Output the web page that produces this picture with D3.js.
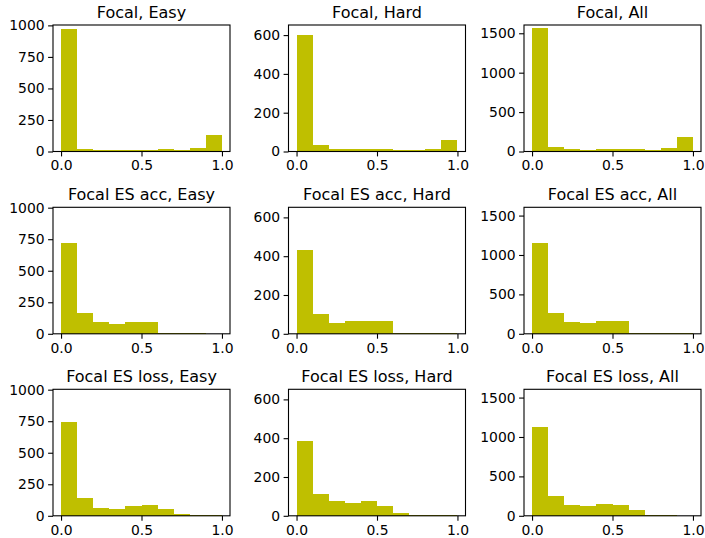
<!DOCTYPE html>
<html><head><meta charset="utf-8">
<script src="https://cdn.jsdelivr.net/npm/d3@7/dist/d3.min.js"></script>
<style>
body{margin:0;background:#fff;}
svg{display:block;font-family:"DejaVu Sans",sans-serif;}
</style></head>
<body><svg id="chart" width="705" height="538"></svg>
<script>
const binEdges = [0.0,0.1,0.2,0.3,0.4,0.5,0.6,0.7,0.8,0.9,1.0];
const rowNames = ["Focal", "Focal ES acc", "Focal ES loss"];
const colNames = ["Easy", "Hard", "All"];

const focalEasy   = [968, 21, 13, 13, 13, 11, 21, 13, 29, 132];
const focalHard   = [600, 34, 12, 12, 12, 12, 9, 9, 14, 60];
const focalAll    = [1563, 63, 34, 21, 34, 34, 34, 21, 46, 190];
const esAccEasy   = [722, 167, 93, 77, 93, 93, 5, 3, 3, 2];
const esAccHard   = [432, 102, 55, 65, 65, 65, 2, 2, 2, 2];
const esAccAll    = [1157, 267, 148, 136, 161, 161, 8, 4, 4, 4];
const esLossEasy  = [743, 140, 63, 53, 77, 85, 56, 16, 5, 3];
const esLossHard  = [386, 112, 76, 65, 76, 50, 15, 3, 3, 3];
const esLossAll   = [1127, 250, 136, 123, 148, 136, 72, 8, 4, 3];

const xTicks = [0.0, 0.5, 1.0];
const yTicksByCol = [[0,250,500,750,1000],[0,200,400,600],[0,500,1000,1500]];
const yMaxByCol = [1003, 652, 1605];

const grid = [
  [focalEasy, focalHard, focalAll],
  [esAccEasy, esAccHard, esAccAll],
  [esLossEasy, esLossHard, esLossAll]
];

const colLeft = [53, 288.5, 524];
const rowTop = [25, 207.3, 389.3];
const W = 177, H = 126.5;
const barColor = "#bfbf00";

const svg = d3.select("#chart");

rowNames.forEach((rn, r) => {
  colNames.forEach((cn, c) => {
    const vals = grid[r][c];
    const g = svg.append("g").attr("transform", `translate(${colLeft[c]},${rowTop[r]})`);
    const x = d3.scaleLinear().domain([-0.05, 1.05]).range([0, W]);
    const y = d3.scaleLinear().domain([0, yMaxByCol[c]]).range([H, 0]);
    const bins = vals.map((v, i) => ({x0: binEdges[i], x1: binEdges[i+1], v}));
    g.selectAll("rect.bar").data(bins).join("rect")
      .attr("class","bar")
      .attr("x", d => x(d.x0))
      .attr("width", d => x(d.x1) - x(d.x0))
      .attr("y", d => y(d.v))
      .attr("height", d => H - y(d.v))
      .attr("fill", barColor)
      .attr("shape-rendering", "crispEdges");

    const xAxis = d3.axisBottom(x).tickValues(xTicks).tickFormat(d3.format(".1f"))
      .tickSizeInner(4.9).tickSizeOuter(0).tickPadding(4.2);
    const gx = g.append("g").attr("transform", `translate(0,${H})`).call(xAxis);
    const yAxis = d3.axisLeft(y).tickValues(yTicksByCol[c]).tickFormat(d3.format("d"))
      .tickSizeInner(4.9).tickSizeOuter(0).tickPadding(3.5);
    const gy = g.append("g").call(yAxis);
    [gx, gy].forEach(ax => {
      ax.select(".domain").remove();
      ax.selectAll(".tick line").attr("stroke", "#000").attr("stroke-width", 1.1);
      ax.selectAll(".tick text").attr("fill", "#000").style("font-size", "13.9px")
        .style("font-family", "'DejaVu Sans', sans-serif");
    });
    g.append("rect").attr("x", 0).attr("y", 0).attr("width", W).attr("height", H)
      .attr("fill", "none").attr("stroke", "#000").attr("stroke-width", 1.1);
    g.append("text").attr("x", W/2).attr("y", -7).attr("text-anchor", "middle")
      .style("font-size", "16px").attr("fill", "#000")
      .text(`${rn}, ${cn}`);
  });
});
</script></body></html>
